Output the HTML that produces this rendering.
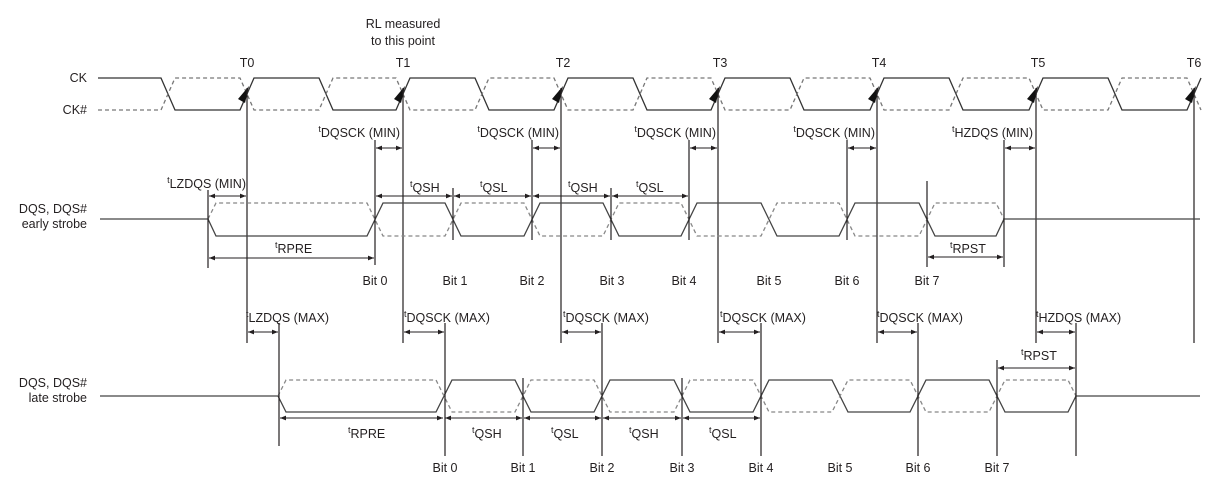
<!DOCTYPE html>
<html><head><meta charset="utf-8">
<style>
html,body{margin:0;padding:0;background:#fff;}
svg{display:block;}
text{font-family:"Liberation Sans",sans-serif;font-size:12.5px;fill:#231f20;}
.sm{font-size:12px;}
</style></head>
<body>
<svg id="s" width="1220" height="491" viewBox="0 0 1220 491" xmlns="http://www.w3.org/2000/svg">
<defs>
<marker id="a" viewBox="0 0 10 10" refX="10" refY="5" markerWidth="9" markerHeight="6" orient="auto-start-reverse" markerUnits="userSpaceOnUse">
<path d="M0,1 L10,5 L0,9 z" fill="#231f20"/></marker>
</defs>
<g id="g"></g>
<!-- titles -->
<text x="403" y="28" text-anchor="middle">RL measured</text>
<text x="403" y="45" text-anchor="middle">to this point</text>
<text x="247" y="67" text-anchor="middle">T0</text>
<text x="403" y="67" text-anchor="middle">T1</text>
<text x="563" y="67" text-anchor="middle">T2</text>
<text x="720" y="67" text-anchor="middle">T3</text>
<text x="879" y="67" text-anchor="middle">T4</text>
<text x="1038" y="67" text-anchor="middle">T5</text>
<text x="1194" y="67" text-anchor="middle">T6</text>
<text x="87" y="82" text-anchor="end">CK</text>
<text x="87" y="114" text-anchor="end">CK#</text>
<text x="87" y="213" text-anchor="end">DQS, DQS#</text>
<text x="87" y="228" text-anchor="end">early strobe</text>
<text x="87" y="387" text-anchor="end">DQS, DQS#</text>
<text x="87" y="402" text-anchor="end">late strobe</text>
<!-- early labels -->
<text x="400" y="137" text-anchor="end"><tspan font-size="9" dy="-5">t</tspan><tspan dy="5">DQSCK (MIN)</tspan></text>
<text x="559" y="137" text-anchor="end"><tspan font-size="9" dy="-5">t</tspan><tspan dy="5">DQSCK (MIN)</tspan></text>
<text x="716" y="137" text-anchor="end"><tspan font-size="9" dy="-5">t</tspan><tspan dy="5">DQSCK (MIN)</tspan></text>
<text x="875" y="137" text-anchor="end"><tspan font-size="9" dy="-5">t</tspan><tspan dy="5">DQSCK (MIN)</tspan></text>
<text x="1033" y="137" text-anchor="end"><tspan font-size="9" dy="-5">t</tspan><tspan dy="5">HZDQS (MIN)</tspan></text>
<text x="246" y="188" text-anchor="end"><tspan font-size="9" dy="-5">t</tspan><tspan dy="5">LZDQS (MIN)</tspan></text>
<text x="410" y="192"><tspan font-size="9" dy="-5">t</tspan><tspan dy="5">QSH</tspan></text>
<text x="480" y="192"><tspan font-size="9" dy="-5">t</tspan><tspan dy="5">QSL</tspan></text>
<text x="568" y="192"><tspan font-size="9" dy="-5">t</tspan><tspan dy="5">QSH</tspan></text>
<text x="636" y="192"><tspan font-size="9" dy="-5">t</tspan><tspan dy="5">QSL</tspan></text>
<text x="275" y="253"><tspan font-size="9" dy="-5">t</tspan><tspan dy="5">RPRE</tspan></text>
<text x="950" y="253"><tspan font-size="9" dy="-5">t</tspan><tspan dy="5">RPST</tspan></text>
<g text-anchor="middle">
<text x="375" y="285">Bit 0</text><text x="455" y="285">Bit 1</text><text x="532" y="285">Bit 2</text><text x="612" y="285">Bit 3</text>
<text x="684" y="285">Bit 4</text><text x="769" y="285">Bit 5</text><text x="847" y="285">Bit 6</text><text x="927" y="285">Bit 7</text>
</g>
<!-- late labels -->
<text x="246" y="322"><tspan font-size="9" dy="-5">t</tspan><tspan dy="5">LZDQS (MAX)</tspan></text>
<text x="404" y="322"><tspan font-size="9" dy="-5">t</tspan><tspan dy="5">DQSCK (MAX)</tspan></text>
<text x="563" y="322"><tspan font-size="9" dy="-5">t</tspan><tspan dy="5">DQSCK (MAX)</tspan></text>
<text x="720" y="322"><tspan font-size="9" dy="-5">t</tspan><tspan dy="5">DQSCK (MAX)</tspan></text>
<text x="877" y="322"><tspan font-size="9" dy="-5">t</tspan><tspan dy="5">DQSCK (MAX)</tspan></text>
<text x="1036" y="322"><tspan font-size="9" dy="-5">t</tspan><tspan dy="5">HZDQS (MAX)</tspan></text>
<text x="1021" y="360"><tspan font-size="9" dy="-5">t</tspan><tspan dy="5">RPST</tspan></text>
<text x="348" y="438"><tspan font-size="9" dy="-5">t</tspan><tspan dy="5">RPRE</tspan></text>
<text x="472" y="438"><tspan font-size="9" dy="-5">t</tspan><tspan dy="5">QSH</tspan></text>
<text x="551" y="438"><tspan font-size="9" dy="-5">t</tspan><tspan dy="5">QSL</tspan></text>
<text x="629" y="438"><tspan font-size="9" dy="-5">t</tspan><tspan dy="5">QSH</tspan></text>
<text x="709" y="438"><tspan font-size="9" dy="-5">t</tspan><tspan dy="5">QSL</tspan></text>
<g text-anchor="middle">
<text x="445" y="472">Bit 0</text><text x="523" y="472">Bit 1</text><text x="602" y="472">Bit 2</text><text x="682" y="472">Bit 3</text>
<text x="761" y="472">Bit 4</text><text x="840" y="472">Bit 5</text><text x="918" y="472">Bit 6</text><text x="997" y="472">Bit 7</text>
</g>
</svg>
<script>
var g=document.getElementById('g'),NS='http://www.w3.org/2000/svg';
function el(t,a){var e=document.createElementNS(NS,t);for(var k in a)e.setAttribute(k,a[k]);g.appendChild(e);return e;}
function path(d,st,dash){el('path',{d:d,fill:'none',stroke:st,'stroke-width':1.3,'stroke-dasharray':dash||'none'});}
function line(x1,y1,x2,y2){el('line',{x1:x1,y1:y1,x2:x2,y2:y2,stroke:'#231f20','stroke-width':1.2});}
function arr(x1,x2,y){el('line',{x1:x1+1,y1:y,x2:x2-1,y2:y,stroke:'#231f20','stroke-width':1.1,'marker-start':'url(#a)','marker-end':'url(#a)'});}
var T=[247,403,561,718,877,1036,1194];
// clock
var ck='M98,78',ckb='M98,110',H=78,L=110,w=7;
var edges=[];
for(var k=0;k<7;k++){var tp=(k==0?247-157.8:T[k-1]);if(k==0){edges.push([168,'f']);}else edges.push([T[k-1]+79,'f']);edges.push([T[k],'r']);}
edges.sort(function(a,b){return a[0]-b[0]});
edges.forEach(function(e){var x=e[0];if(e[1]=='f'){ck+=' L'+(x-w)+','+H+' L'+(x+w)+','+L;ckb+=' L'+(x-w)+','+L+' L'+(x+w)+','+H;}else{ck+=' L'+(x-w)+','+L+' L'+(x+w)+','+H;ckb+=' L'+(x-w)+','+H+' L'+(x+w)+','+L;}});
el('clipPath',{id:'c'});
path(ck,'#333');path(ckb,'#777','4,3');
// clock arrows & T lines
T.forEach(function(t){el('polygon',{points:(t+2)+',86 '+(t-9)+',99 '+(t-2)+',103',fill:'#111'});line(t,88,t,343);});
// strobes
function strobe(x0,cs,xe,hi,lo,mid){
 var s='M100,'+mid+' L'+x0+','+mid+' L'+(x0+8)+','+lo,d='M'+x0+','+mid+' L'+(x0+8)+','+hi,ls=lo,ld=hi;
 cs.forEach(function(c){var ns=ls==lo?hi:lo,nd=ld==lo?hi:lo;s+=' L'+(c-8)+','+ls+' L'+(c+8)+','+ns;d+=' L'+(c-8)+','+ld+' L'+(c+8)+','+nd;ls=ns;ld=nd;});
 s+=' L'+(xe-8)+','+ls+' L'+xe+','+mid+' L1200,'+mid;d+=' L'+(xe-8)+','+ld+' L'+xe+','+mid;
 path(s,'#444');path(d,'#888','4,3');}
var ce=[375,453,532,611,689,769,847,927],cl=[444,523,602,682,761,840,918,997];
strobe(208,ce,1004,203,236,219);
strobe(278,cl,1076,380,412,396);
// early lines
line(208,190,208,268);line(375,140,375,265);line(453,188,453,240);line(532,140,532,240);line(611,188,611,240);
line(689,140,689,240);line(847,140,847,240);line(927,181,927,267);line(1004,140,1004,267);
arr(375,403,148);arr(532,561,148);arr(689,718,148);arr(847,877,148);arr(1004,1036,148);
arr(208,247,196);arr(375,453,196);arr(453,532,196);arr(532,611,196);arr(611,689,196);
arr(208,375,258);arr(927,1004,257);
// late lines
line(279,323,279,446);line(445,323,445,456);line(523,378,523,456);line(602,323,602,456);line(682,378,682,456);
line(761,323,761,456);line(918,323,918,456);line(997,360,997,456);line(1076,323,1076,456);
arr(247,279,332);arr(403,445,332);arr(561,602,332);arr(718,761,332);arr(877,918,332);arr(1036,1076,332);
arr(997,1076,368);
arr(279,444,418);arr(444,523,418);arr(523,602,418);arr(602,682,418);arr(682,761,418);
</script>
</body></html>
